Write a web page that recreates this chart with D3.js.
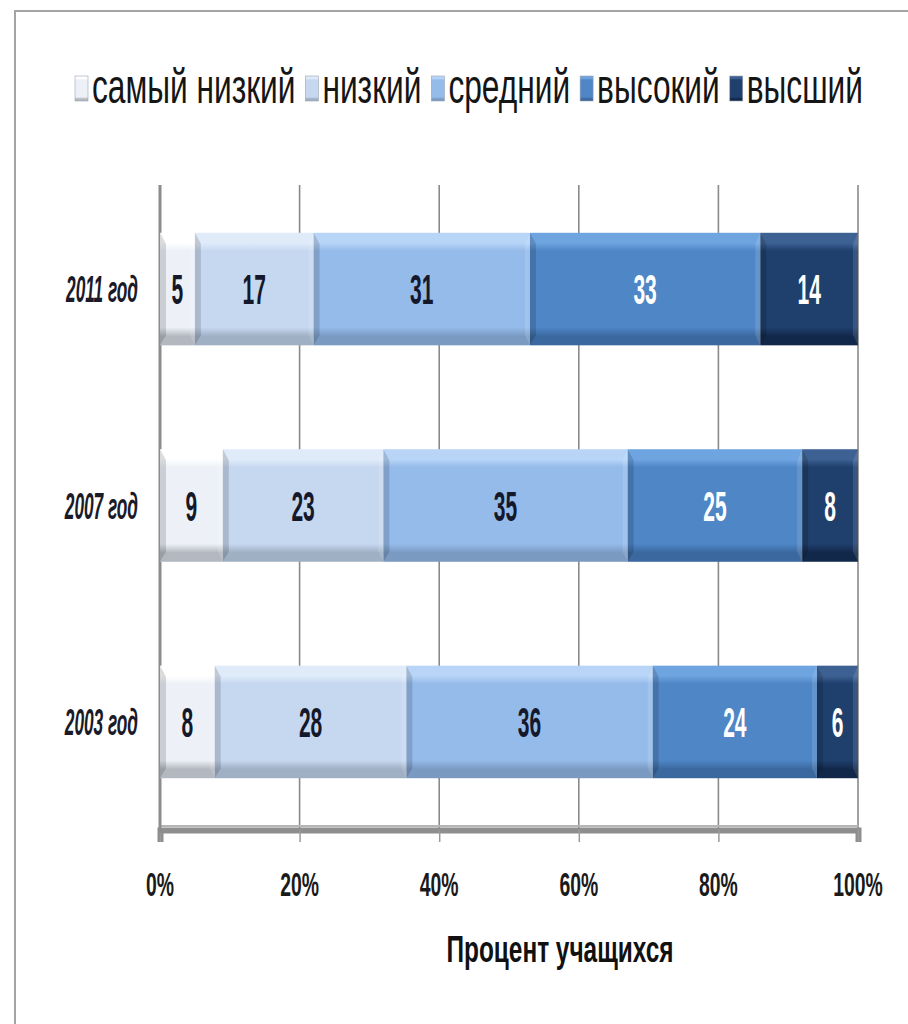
<!DOCTYPE html>
<html>
<head>
<meta charset="utf-8">
<script src="https://cdn.jsdelivr.net/npm/d3@7"></script>
<style>
  html, body { margin: 0; padding: 0; background: #ffffff; }
  svg { display: block; }
  text { font-family: "Liberation Sans", Arial, sans-serif; }
</style>
</head>
<body>
<script>
// ---- data ----
const years = ["2011 год", "2007 год", "2003 год"];
const seriesNames = ["самый низкий", "низкий", "средний", "высокий", "высший"];
const vals2011 = [5, 17, 31, 33, 14];
const vals2007 = [9, 23, 35, 25, 8];
const vals2003 = [8, 28, 36, 24, 6];
const tickValues = [0, 0.2, 0.4, 0.6, 0.8, 1.0];
const tickLabels = ["0%", "20%", "40%", "60%", "80%", "100%"];
const axisTitle = "Процент учащихся";

// ---- styles ----
const baseCol  = ["#edf1f7", "#c6d8f0", "#95bbea", "#4f86c6", "#1f3f6d"];
const topCol   = ["#ffffff", "#e0ebf9", "#b8d5f7", "#6ea4e0", "#3d6192"];
const botCol   = ["#b3b8c0", "#9fafc4", "#7a9ac2", "#3a689f", "#12284a"];
const labelCol = ["#15182a", "#15182a", "#15182a", "#ffffff", "#ffffff"];

const W = 908, H = 1024;
const rows = [vals2011, vals2007, vals2003].map((v, i) => {
  const o = { year: years[i] };
  seriesNames.forEach((s, j) => o[s] = v[j]);
  return o;
});

const svg = d3.select("body").append("svg").attr("width", W).attr("height", H);
const defs = svg.append("defs");

// gradients
seriesNames.forEach((s, i) => {
  const g = defs.append("linearGradient").attr("id", "g" + i)
    .attr("x1", 0).attr("y1", 0).attr("x2", 0).attr("y2", 1);
  [[0, topCol[i]], [0.09, topCol[i]], [0.16, baseCol[i]], [0.84, baseCol[i]], [0.92, botCol[i]], [1, botCol[i]]]
    .forEach(([o, c]) => g.append("stop").attr("offset", o).attr("stop-color", c));
});
const shadow = defs.append("filter").attr("id", "fs").attr("x", -0.05).attr("y", -0.05).attr("width", 1.1).attr("height", 1.1);
shadow.append("feGaussianBlur").attr("stdDeviation", 1.2);

// frame
svg.append("rect").attr("x", 17).attr("y", 13).attr("width", 940).attr("height", 1040)
  .attr("fill", "none").attr("stroke", "#c8c8c8").attr("stroke-width", 3).attr("filter", "url(#fs)");
svg.append("rect").attr("x", 15).attr("y", 11).attr("width", 940).attr("height", 1040)
  .attr("fill", "#ffffff").attr("stroke", "#a4a4a4").attr("stroke-width", 2);

// scales
const x = d3.scaleLinear().domain([0, 1]).range([160, 858]);
const y = d3.scaleBand().domain(years).range([183, 828]).paddingInner(0.48).paddingOuter(0.23);

// squished text helper
function sText(parent, tx, ty, str, opt) {
  return parent.append("text")
    .attr("transform", `translate(${tx},${ty}) scale(${opt.sx},1)`)
    .attr("text-anchor", opt.anchor || "start")
    .attr("font-size", opt.size)
    .attr("font-weight", opt.weight || "normal")
    .attr("font-style", opt.style || "normal")
    .attr("fill", opt.fill || "#111")
    .text(str);
}

// grid lines
svg.append("g").selectAll("line").data(tickValues.slice(1)).join("line")
  .attr("x1", d => x(d)).attr("x2", d => x(d))
  .attr("y1", 185).attr("y2", 828)
  .attr("stroke", "#8a8a8a").attr("stroke-width", 1.6);

// x axis (floor + ticks)
const xAxis = d3.axisBottom(x).tickValues(tickValues).tickSize(12).tickFormat("");
const gx = svg.append("g").attr("transform", "translate(0,830)").call(xAxis);
gx.select(".domain").attr("stroke", "#8e8e8e").attr("stroke-width", 6);
gx.selectAll(".tick line").attr("stroke", "#9a9a9a").attr("stroke-width", 1.5);
svg.append("line").attr("x1", 160).attr("x2", 858).attr("y1", 826).attr("y2", 826)
  .attr("stroke", "#b5b5b5").attr("stroke-width", 2);

// left axis
const yAxis = d3.axisLeft(y).tickSize(0).tickFormat("");
const gy = svg.append("g").attr("transform", "translate(160,0)").call(yAxis);
gy.select(".domain").attr("stroke", "#8c8c8c").attr("stroke-width", 3)
  .attr("d", "M0,185V833");

// stacked bars
const stack = d3.stack().keys(seriesNames).offset(d3.stackOffsetExpand);
const layers = stack(rows);

const gl = svg.append("g").selectAll("g").data(layers).join("g");
gl.each(function(layer, i) {
  const g = d3.select(this);
  layer.forEach(seg => {
    const x0 = x(seg[0]), x1 = x(seg[1]);
    const yy = y(seg.data.year), h = y.bandwidth();
    g.append("rect").attr("x", x0).attr("y", yy).attr("width", x1 - x0).attr("height", h)
      .attr("fill", `url(#g${i})`);
    // left bevel shade
    g.append("path")
      .attr("d", `M${x0},${yy}L${x0 + 6},${yy + 11}L${x0 + 6},${yy + h - 10}L${x0},${yy + h}Z`)
      .attr("fill", "#000").attr("opacity", 0.14);
    // right bevel light
    g.append("path")
      .attr("d", `M${x1},${yy}L${x1 - 5},${yy + 11}L${x1 - 5},${yy + h - 10}L${x1},${yy + h}Z`)
      .attr("fill", "#fff").attr("opacity", 0.12);
    // data label
    sText(g, (x0 + x1) / 2, yy + h / 2 + 15, String(seg.data[layer.key]),
      { sx: 0.5, size: 42, weight: "bold", anchor: "middle", fill: labelCol[i] });
  });
});

// category labels
years.forEach(yr => {
  sText(svg, 138, y(yr) + y.bandwidth() / 2 + 13, yr,
    { sx: 0.48, size: 36, weight: "bold", style: "italic", anchor: "end", fill: "#1a1a28" });
});

// tick labels
tickValues.forEach((t, i) => {
  sText(svg, x(t), 896, tickLabels[i], { sx: 0.57, size: 34, weight: "bold", anchor: "middle", fill: "#1a1a1a" });
});

// axis title
sText(svg, 560, 962, axisTitle, { sx: 0.66, size: 37, weight: "bold", anchor: "middle", fill: "#111" });

// legend
const lg = svg.append("g");
let lx = 75;
seriesNames.forEach((s, i) => {
  lg.append("rect").attr("x", lx).attr("y", 76).attr("width", 13).attr("height", 25)
    .attr("fill", `url(#g${i})`).attr("stroke", "#9aa3b0").attr("stroke-width", 0.6);
  const t = sText(lg, lx + 17, 103, s, { sx: 0.66, size: 48, fill: "#151515" });
  const w = t.node().getComputedTextLength() * 0.66;
  lx += 17 + w + 10;
});
</script>
</body>
</html>
